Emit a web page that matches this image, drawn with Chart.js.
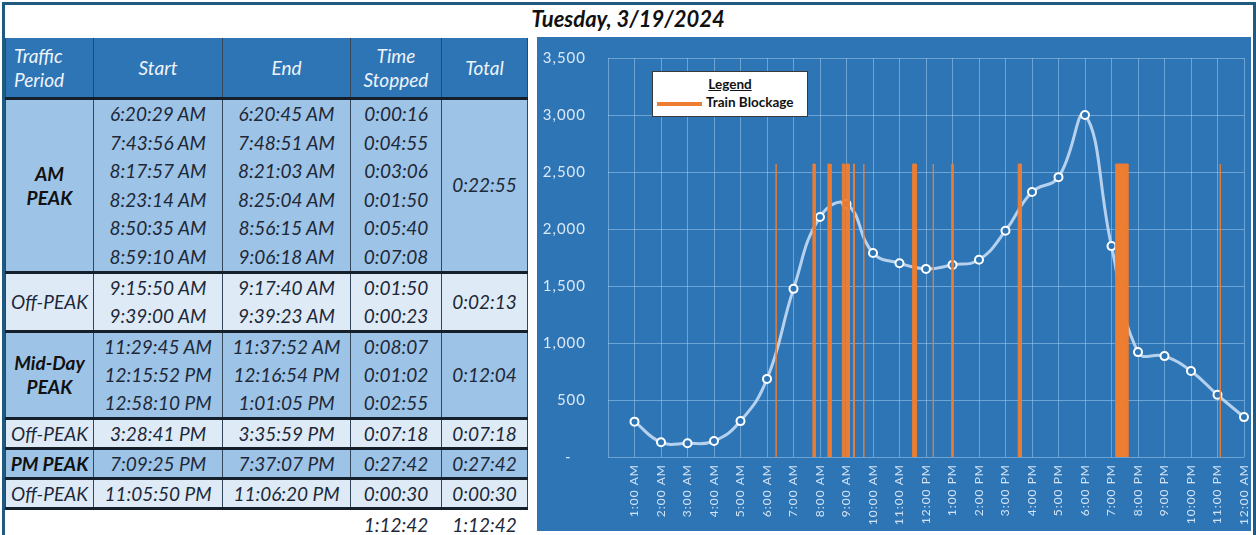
<!DOCTYPE html>
<html>
<head>
<meta charset="utf-8">
<script src="https://cdn.jsdelivr.net/npm/chart.js@4.4.0/dist/chart.umd.min.js"></script>
<style>
  body { margin:0; width:1256px; height:535px; overflow:hidden; background:#fff; font-family:Lato, 'Open Sans', sans-serif; position:relative; }
  #frame { position:absolute; left:2px; top:2px; width:1248px; height:545px; border:3px solid #1f5a80; }
  #title { position:absolute; left:5px; top:4px; width:1246px; height:32px; line-height:30px; text-align:center; font-weight:bold; font-style:italic; font-size:22px; color:#111; }
  #tbl { position:absolute; left:5px; top:38px; width:522px; border-collapse:collapse; table-layout:fixed; }
  #tbl td, #tbl th { padding:0; text-align:center; font-style:italic; font-size:19px; color:#1d2838; border-left:1px solid #34465a; border-right:1px solid #34465a; }
  #tbl th { background:#2e75b6; color:#eef4fa; font-weight:normal; height:59px; line-height:24px; border-bottom:3px solid #15202b; }
  #tbl tr.grp td { border-bottom:3px solid #15202b; }
  #tbl td.lbl { font-weight:bold; color:#111; }
  #tbl td.off { font-weight:normal; color:#1d2838; }
  #tbl tr.sum td { border:none; background:#fff; height:30px; line-height:30px; }
  #chartBox { position:absolute; left:537px; top:37px; width:714px; height:494px; background:#2e75b6; }
  #legend { position:absolute; left:652px; top:71px; width:154px; height:44px; background:#fff; border:1px solid #3a3a3a; font-weight:bold; font-size:13.5px; color:#111; }
</style>
</head>
<body>
<div id="frame"></div>
<div id="title">Tuesday, 3/19/2024</div>
<table id="tbl"></table>
<div id="chartBox"><canvas id="trafficChart"></canvas></div>
<div id="legend">
  <div style="position:absolute;left:0;width:154px;top:4px;text-align:center;text-decoration:underline;">Legend</div>
  <div style="position:absolute;left:4px;top:30px;width:45px;height:4px;background:#ed7d31;"></div>
  <div style="position:absolute;left:53px;top:22px;">Train Blockage</div>
</div>
<script>
// Table data
const periodNames = ['AM<br>PEAK', 'Off-PEAK', 'Mid-Day<br>PEAK', 'Off-PEAK', 'PM PEAK', 'Off-PEAK'];
const periodSizes = [6, 2, 3, 1, 1, 1];
const periodTotals = ['0:22:55', '0:02:13', '0:12:04', '0:07:18', '0:27:42', '0:00:30'];
const blockStart = ['6:20:29 AM', '7:43:56 AM', '8:17:57 AM', '8:23:14 AM', '8:50:35 AM', '8:59:10 AM',
  '9:15:50 AM', '9:39:00 AM', '11:29:45 AM', '12:15:52 PM', '12:58:10 PM', '3:28:41 PM', '7:09:25 PM', '11:05:50 PM'];
const blockEnd = ['6:20:45 AM', '7:48:51 AM', '8:21:03 AM', '8:25:04 AM', '8:56:15 AM', '9:06:18 AM',
  '9:17:40 AM', '9:39:23 AM', '11:37:52 AM', '12:16:54 PM', '1:01:05 PM', '3:35:59 PM', '7:37:07 PM', '11:06:20 PM'];
const timeStopped = ['0:00:16', '0:04:55', '0:03:06', '0:01:50', '0:05:40', '0:07:08',
  '0:01:50', '0:00:23', '0:08:07', '0:01:02', '0:02:55', '0:07:18', '0:27:42', '0:00:30'];
const grandTotal = '1:12:42';

// Chart data
const hourLabels = ['1:00 AM', '2:00 AM', '3:00 AM', '4:00 AM', '5:00 AM', '6:00 AM', '7:00 AM', '8:00 AM',
  '9:00 AM', '10:00 AM', '11:00 AM', '12:00 PM', '1:00 PM', '2:00 PM', '3:00 PM', '4:00 PM', '5:00 PM',
  '6:00 PM', '7:00 PM', '8:00 PM', '9:00 PM', '10:00 PM', '11:00 PM', '12:00 AM'];
const volumes = [310, 130, 120, 140, 315, 685, 1475, 2105, 2220, 1790, 1700, 1650, 1685, 1730, 1985, 2325, 2455, 3000, 1850, 920, 885, 755, 545, 350];
const blockHeight = 2570;

// --- build table ---
const tbl = document.getElementById('tbl');
const bgDark = '#9dc3e6', bgLight = '#deebf7';
// row heights / line heights per group size
const rowH = { 6: 171, 2: 56, 3: 84, 1: 27 };
const lineH = { 6: 28.5, 2: 28, 3: 28, 1: 27 };
let html = '<colgroup><col style="width:88px"><col style="width:129px"><col style="width:128px"><col style="width:91px"><col style="width:86px"></colgroup>';
html += '<tr><th style="text-align:left;padding-left:8px">Traffic<br>Period</th><th>Start</th><th>End</th><th>Time<br>Stopped</th><th>Total</th></tr>';
let k = 0;
periodNames.forEach((name, g) => {
  const n = periodSizes[g];
  const s = blockStart.slice(k, k + n).join('<br>');
  const e = blockEnd.slice(k, k + n).join('<br>');
  const t = timeStopped.slice(k, k + n).join('<br>');
  k += n;
  const isOff = name === 'Off-PEAK';
  const bg = isOff ? bgLight : bgDark;
  html += `<tr class="grp" style="background:${bg};line-height:${lineH[n]}px">` +
    `<td class="lbl ${isOff ? 'off' : ''}" style="height:${rowH[n]}px;line-height:${n === 1 ? 27 : 24}px">${name}</td>` +
    `<td>${s}</td><td>${e}</td><td>${t}</td><td>${periodTotals[g]}</td></tr>`;
});
html += `<tr class="sum"><td></td><td></td><td></td><td>${grandTotal}</td><td>${grandTotal}</td></tr>`;
tbl.innerHTML = html;

// --- chart ---
function toHours(str) {
  const [time, ampm] = str.split(' ');
  const [h, m, s] = time.split(':').map(Number);
  return (h % 12) + (ampm === 'PM' ? 12 : 0) + m / 60 + s / 3600;
}

const orange = '#ed7d31';
const blockSets = blockStart.map((st, i) => {
  const a = toHours(st), b = toHours(blockEnd[i]);
  return {
    type: 'line',
    data: [{ x: a, y: 0 }, { x: a, y: blockHeight }, { x: b, y: blockHeight }, { x: b, y: 0 }],
    borderColor: orange,
    backgroundColor: orange,
    borderWidth: 1,
    fill: 'origin',
    pointRadius: 0,
    tension: 0,
    order: 0
  };
});

const gridColor = 'rgba(160,200,238,0.55)';

// wider letter spacing like the excel labels
const spacing = {
  id: 'spacing',
  beforeLayout: c => { c.ctx.letterSpacing = '1px'; },
  beforeDraw: c => { c.ctx.letterSpacing = '1px'; }
};

new Chart(document.getElementById('trafficChart'), {
  type: 'line',
  plugins: [spacing],
  data: {
    datasets: [
      ...blockSets,
      {
        data: volumes.map((v, i) => ({ x: i + 1, y: v })),
        borderColor: 'rgba(196,220,244,0.9)',
        borderWidth: 3,
        tension: 0.45,
        pointRadius: 4,
        pointBorderWidth: 2,
        pointBorderColor: '#ffffff',
        pointBackgroundColor: '#2e75b6',
        clip: false,
        order: 1
      }
    ]
  },
  options: {
    responsive: true,
    maintainAspectRatio: false,
    animation: false,
    layout: { padding: { top: 21, right: 7, left: 0, bottom: 0 } },
    plugins: { legend: { display: false }, tooltip: { enabled: false } },
    scales: {
      x: {
        type: 'linear', min: 0, max: 24,
        ticks: {
          stepSize: 1, autoSkip: false, maxRotation: 90, minRotation: 90, padding: 7,
          color: '#d3e3f4', font: { family: 'Lato', size: 12 },
          callback: v => v >= 1 ? hourLabels[v - 1] : ''
        },
        grid: { color: gridColor, drawTicks: false },
        border: { display: false },
        afterFit: s => { s.height = 74; s.paddingLeft = 0; s.paddingRight = 0; }
      },
      y: {
        min: 0, max: 3500,
        ticks: {
          stepSize: 500, padding: 22, color: '#dbe8f5', font: { family: 'Lato', size: 15 },
          callback: v => v === 0 ? '-   ' : v.toLocaleString('en-US')
        },
        grid: { color: gridColor, drawTicks: false },
        border: { display: false },
        afterFit: s => { s.width = 71; s.paddingTop = 0; s.paddingBottom = 0; }
      }
    }
  }
});
</script>
</body>
</html>
